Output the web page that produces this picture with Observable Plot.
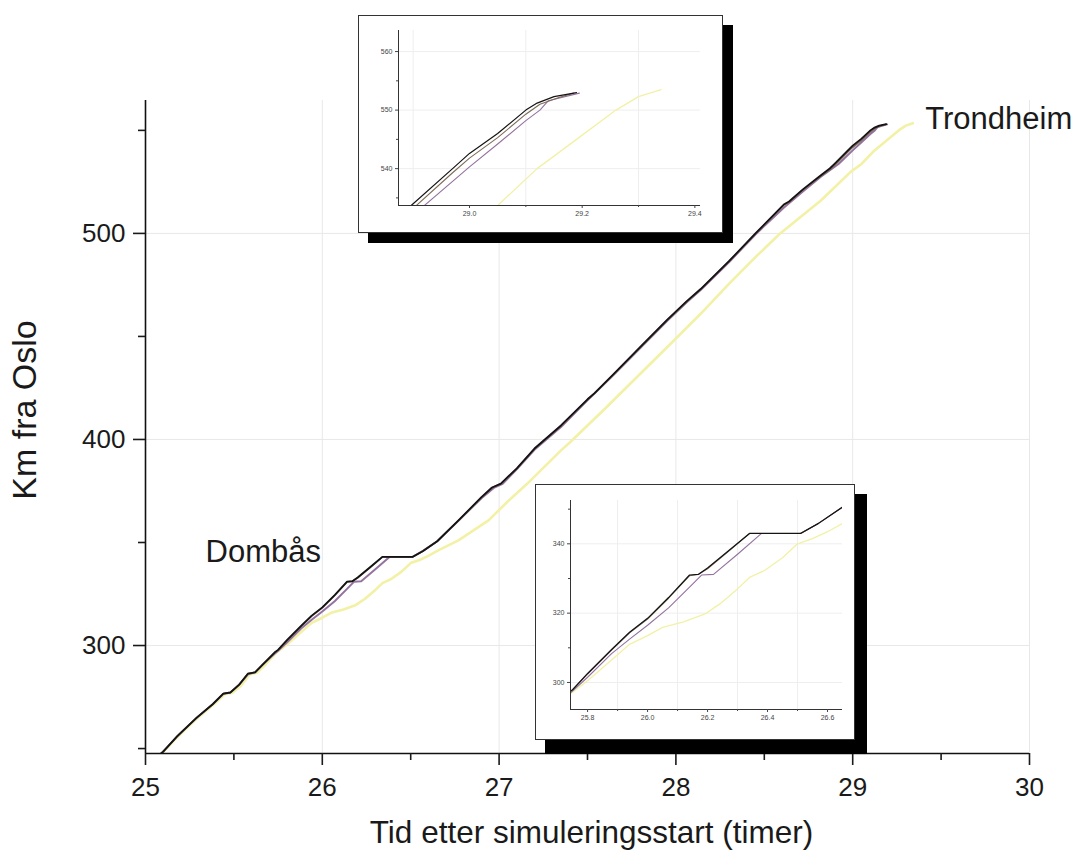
<!DOCTYPE html>
<html>
<head>
<meta charset="utf-8">
<script src="https://cdn.jsdelivr.net/npm/d3@7"></script>
<script src="https://cdn.jsdelivr.net/npm/@observablehq/plot@0.6"></script>
<style>
  html, body { margin: 0; padding: 0; background: #fff; }
  #wrap { position: relative; width: 1080px; height: 851px; overflow: hidden; font-family: "Liberation Sans", Arial, sans-serif; }
  #wrap svg { position: absolute; }
  .shadow { position: absolute; background: #000; }
  .box { position: absolute; background: #fff; border: 1px solid #333; box-sizing: border-box; }
</style>
</head>
<body>
<div id="wrap"></div>
<script>
// ---- data: hours after simulation start vs. km from Oslo ----
const tBlack  = [25.06,25.10,25.18,25.29,25.38,25.44,25.48,25.53,25.58,25.62,25.66,25.73,25.75,25.80,25.88,25.94,26.00,26.07,26.14,26.17,26.20,26.27,26.34,26.51,26.57,26.65,26.77,26.90,26.96,27.01,27.10,27.20,27.35,27.50,27.54,27.65,27.80,27.95,28.06,28.14,28.30,28.45,28.61,28.64,28.72,28.82,28.87,28.90,28.97,29.00,29.05,29.10,29.12,29.15,29.19];
const kmBlack = [245.5,248.5,256,265,271.5,276.7,277.2,281,286.4,287,290.5,296.6,297.9,302.6,309.5,314.5,318.5,324.5,331,331.2,333,338,343,343,345.9,350.6,360.7,372,376.7,378.6,386,395.6,406.8,419.5,422.5,432,445,458,467,473,486.5,500,514,515.5,521.5,528.2,531.5,534,540,542.6,546,550,551.2,552.3,553];

const tBrown  = [25.06,25.10,25.18,25.29,25.38,25.44,25.48,25.53,25.58,25.62,25.66,25.73,25.75,25.80,25.88,25.94,26.00,26.07,26.14,26.17,26.20,26.27,26.34,26.51,26.57,26.65,26.77,26.90,26.96,27.01,27.10,27.20,27.35,27.50,27.54,27.65,27.80,27.95,28.06,28.14,28.30,28.45,28.61,28.64,28.72,28.82,28.87,28.90,28.97,29.00,29.05,29.10,29.125,29.16,29.185];
const kmBrown = [245.5,248.5,256,265,271.5,276.7,277.2,281,286.4,287,290.5,296.6,297.9,302.4,309.3,314.3,318.3,324.3,330.8,331.2,332.8,337.8,343,343,345.9,350.6,360.6,371.8,376.6,378.5,385.8,395.4,406.6,419.3,422.3,431.8,444.8,457.8,466.8,472.8,486.3,499.8,513.7,515.2,521.2,527.8,531,533.2,539.3,541.8,545.3,549.3,551,552.2,552.9];

const tPurple  = [25.06,25.10,25.18,25.29,25.38,25.44,25.48,25.53,25.58,25.62,25.66,25.73,25.75,25.80,25.88,25.94,26.00,26.07,26.14,26.18,26.22,26.30,26.38,26.51,26.57,26.65,26.77,26.90,26.97,27.02,27.10,27.20,27.35,27.50,27.65,27.80,27.95,28.06,28.14,28.30,28.45,28.61,28.72,28.82,28.92,29.00,29.05,29.10,29.125,29.14,29.195];
const kmPurple = [245.5,248.5,256,265,271.5,276.5,277.2,281,286,287,290.5,296,297.5,301.5,308.3,312.5,316.5,321.5,327.5,331,331.2,337,343,343,345.9,350.6,360.5,371.5,376.5,378.5,385.5,395,406,419,431.5,444.5,457.5,466.5,472.5,486,499.5,512.5,520.5,527.5,533.7,540.3,544.2,548.2,550,551.6,552.9];

const tYellow  = [25.06,25.10,25.18,25.29,25.38,25.45,25.49,25.54,25.59,25.63,25.67,25.74,25.80,25.88,25.94,26.00,26.05,26.12,26.19,26.24,26.30,26.34,26.39,26.45,26.50,26.55,26.60,26.65,26.77,26.94,27.05,27.16,27.35,27.40,27.60,27.80,28.00,28.14,28.30,28.45,28.59,28.82,28.99,29.05,29.12,29.19,29.26,29.30,29.34];
const kmYellow = [245.5,248.3,255.5,264.5,271,276.5,277,280.5,286,286.8,290,296.5,300.5,306.5,311,313.5,315.9,317.5,319.7,322.6,327,330.3,332.3,336,340,341.5,343.5,345.9,351,360.7,370,378.6,394.7,398.5,415,432,449,461,475.5,488.5,500,516,530,533.7,540,545,550,552.3,553.5];

// ---- axis ticks and labels ----
const xMajor = [25, 26, 27, 28, 29, 30];
const xMinor = [25.5, 26.5, 27.5, 28.5, 29.5];
const yMajor = [300, 400, 500];
const yMinor = [250, 350, 450, 550];
const xTitle = "Tid etter simuleringsstart (timer)";
const yTitle = "Km fra Oslo";
const placeLabels = ["Dombås", "Trondheim"];

const topX = [29.0, 29.2, 29.4], topXMinor = [29.1, 29.3], topXGrid = [28.9, 29.1, 29.3];
const topY = [540, 550, 560], topYMinor = [535, 545, 555];
const botX = [25.8, 26.0, 26.2, 26.4, 26.6], botXMinor = [25.9, 26.1, 26.3, 26.5], botXGrid = [25.9, 26.1, 26.3, 26.5];
const botY = [300, 320, 340], botYMinor = [310, 330, 350];

// ---- helpers ----
const rows = (t, km) => t.map((d, i) => ({t: d, km: km[i]}));
const dYellow = rows(tYellow, kmYellow), dPurple = rows(tPurple, kmPurple),
      dBrown = rows(tBrown, kmBrown), dBlack = rows(tBlack, kmBlack);
const FONT = "'Liberation Sans', Arial, sans-serif";

function lines(w) {
  return [
    Plot.line(dYellow, {x: "t", y: "km", stroke: "#f2f1a6", strokeWidth: w.yellow, clip: true}),
    Plot.line(dPurple, {x: "t", y: "km", stroke: "#94729f", strokeWidth: w.purple, clip: true}),
    Plot.line(dBrown,  {x: "t", y: "km", stroke: "#7d6b58", strokeWidth: w.brown, clip: true}),
    Plot.line(dBlack,  {x: "t", y: "km", stroke: "#141414", strokeWidth: w.black, clip: true})
  ];
}

const wrap = document.getElementById("wrap");

// ---- main chart ----
const yDom = [247.6, 564.5];
const main = Plot.plot({
  width: 1080, height: 851,
  marginLeft: 145, marginRight: 51, marginTop: 100, marginBottom: 98,
  x: {domain: [25, 30]},
  y: {domain: yDom},
  style: {fontFamily: FONT, background: "transparent", color: "#1a1a1a"},
  marks: [
    Plot.ruleX(xMajor.slice(1), {stroke: "#e8e8e8", strokeWidth: 1}),
    Plot.ruleY(yMajor, {stroke: "#e8e8e8", strokeWidth: 1}),
    ...lines({yellow: 2.6, purple: 2, brown: 1.6, black: 1.8}),
    Plot.ruleX([25], {stroke: "#111", strokeWidth: 1.6}),
    Plot.ruleY([yDom[0]], {stroke: "#111", strokeWidth: 1.6}),
    Plot.axisX({ticks: xMajor, tickSize: 12, tickPadding: 12, fontSize: 26, tickFormat: d => String(d), label: null, strokeWidth: 1.6}),
    Plot.axisX({ticks: xMinor, tickSize: 7, tickFormat: () => "", label: null, strokeWidth: 1.6}),
    Plot.axisY({ticks: yMajor, tickSize: 12, tickPadding: 8, fontSize: 26, tickFormat: d => String(d), label: null, strokeWidth: 1.6}),
    Plot.axisY({ticks: yMinor, tickSize: 7, tickFormat: () => "", label: null, strokeWidth: 1.6}),
    Plot.text([yTitle], {frameAnchor: "left", textAnchor: "middle", lineAnchor: "middle", dx: -120, dy: -17, rotate: -90, fontSize: 34, fill: "#1a1a1a"}),
    Plot.text([xTitle], {frameAnchor: "bottom", textAnchor: "middle", lineAnchor: "bottom", dx: 4, dy: 89, fontSize: 31.5, fill: "#1a1a1a"}),
    Plot.text([placeLabels[0]], {x: 25.34, y: 340.3, textAnchor: "start", lineAnchor: "bottom", fontSize: 31, fill: "#1a1a1a"}),
    Plot.text([placeLabels[1]], {x: 29.41, y: 550.5, textAnchor: "start", lineAnchor: "bottom", fontSize: 31, fill: "#1a1a1a"})
  ]
});
main.style.left = "0px"; main.style.top = "0px";
wrap.appendChild(main);

// ---- inset builder ----
function inset(o) {
  const sh = document.createElement("div");
  sh.className = "shadow";
  Object.assign(sh.style, {left: o.sx + "px", top: o.sy + "px", width: o.sw + "px", height: o.sh + "px"});
  wrap.appendChild(sh);
  const bx = document.createElement("div");
  bx.className = "box";
  Object.assign(bx.style, {left: o.left + "px", top: o.top + "px", width: o.w + "px", height: o.h + "px"});
  wrap.appendChild(bx);
  const p = Plot.plot({
    width: o.w, height: o.h,
    marginLeft: o.ml, marginRight: o.mr, marginTop: o.mt, marginBottom: o.mb,
    x: {domain: o.xd}, y: {domain: o.yd},
    style: {fontFamily: FONT, background: "transparent", color: "#444"},
    marks: [
      Plot.ruleX(o.xGrid, {stroke: "#eeeeee", strokeWidth: 1}),
      Plot.ruleY(o.yt, {stroke: "#eeeeee", strokeWidth: 1}),
      ...lines({yellow: 1.3, purple: 1.1, brown: 1.1, black: 1.2}),
      Plot.ruleX([o.xd[0]], {stroke: "#333", strokeWidth: 1}),
      Plot.ruleY([o.yd[0]], {stroke: "#333", strokeWidth: 1}),
      Plot.axisX({ticks: o.xt, tickSize: 3, tickPadding: 3, fontSize: 7, tickFormat: d3.format(".1f"), label: null}),
      Plot.axisX({ticks: o.xm, tickSize: 2, tickFormat: () => "", label: null}),
      Plot.axisY({ticks: o.yt, tickSize: 3, tickPadding: 3, fontSize: 7, tickFormat: d => String(d), label: null}),
      Plot.axisY({ticks: o.ym, tickSize: 2, tickFormat: () => "", label: null})
    ]
  });
  p.style.left = o.left + "px"; p.style.top = o.top + "px";
  wrap.appendChild(p);
}

inset({left: 358, top: 15, w: 365, h: 218, sx: 368, sy: 25, sw: 365, sh: 218,
  ml: 40, mr: 23, mt: 15, mb: 28, xd: [28.874, 29.41], yd: [533.7, 563.6],
  xt: topX, xm: topXMinor, xGrid: topXGrid, yt: topY, ym: topYMinor});

inset({left: 535, top: 484, w: 320, h: 256, sx: 545, sy: 494, sw: 322, sh: 260,
  ml: 35, mr: 13, mt: 16, mb: 31, xd: [25.743, 26.65], yd: [292.2, 352.5],
  xt: botX, xm: botXMinor, xGrid: botXGrid, yt: botY, ym: botYMinor});
</script>
</body>
</html>
